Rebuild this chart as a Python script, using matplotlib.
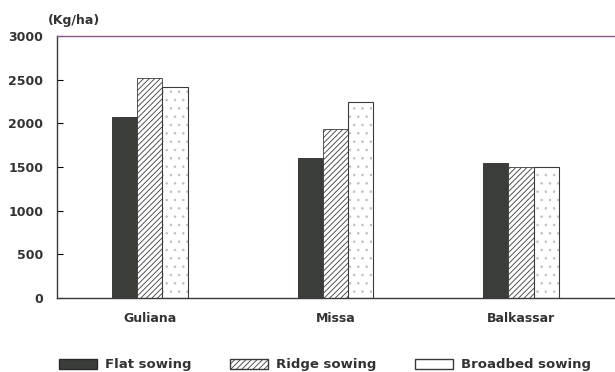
import matplotlib.pyplot as plt
import numpy
from matplotlib.patches import Patch

sites = ['Guliana', 'Missa', 'Balkassar']
flat_sowing = [2070, 1600, 1550]
ridge_sowing = [2520, 1940, 1500]
broadbed_sowing = [2420, 2250, 1500]
y_ticks = [0, 500, 1000, 1500, 2000, 2500, 3000]


def plot():
  plt.rc('font', family='DejaVu Sans', weight='bold')
  plt.rc('hatch', linewidth=0.6)

  fig = plt.figure(figsize=(6.15, 3.72), dpi=100)
  ax = fig.add_axes([0.093, 0.199, 0.905, 0.704])

  x = numpy.arange(len(sites))
  w = 0.135

  ax.bar(x - w, flat_sowing, w, color='#3b3d38', edgecolor='#2a2a2a', lw=0.6)
  ax.bar(x, ridge_sowing, w, color='white', edgecolor='#3a3a3a', hatch='//////', lw=0.6)
  ax.bar(x + w, broadbed_sowing, w, color='white', edgecolor='#c0c0c0', hatch='..', lw=0.6)
  # outlines for the dotted bars in a darker tone
  ax.bar(x + w, broadbed_sowing, w, color='none', edgecolor='#3a3a3a', lw=0.8)

  ax.set_xlim(-0.5, 2.5)
  ax.set_ylim(0, 3000)
  ax.set_yticks(y_ticks)
  ax.set_xticks(x)
  ax.set_xticklabels(sites, fontsize=9, fontweight='bold', color='#333333')
  ax.tick_params(axis='y', labelsize=9, labelcolor='#333333', direction='in',
                 length=4, width=0.8, pad=10)
  ax.tick_params(axis='x', length=0, pad=10)
  for s in ['left', 'bottom', 'top']:
    ax.spines[s].set_color('#3a3a3a')
    ax.spines[s].set_linewidth(1.0)
  ax.spines['top'].set_color('#8a5a8a')
  ax.spines['right'].set_visible(False)

  fig.text(0.078, 0.935, '(Kg/ha)', fontsize=9, fontweight='bold', color='#333333')

  handles = [
    Patch(facecolor='#3b3d38', edgecolor='#2a2a2a', label='Flat sowing'),
    Patch(facecolor='white', edgecolor='#3a3a3a', hatch='//////', label='Ridge sowing'),
    Patch(facecolor='white', edgecolor='#3a3a3a', label='Broadbed sowing'),
  ]
  fig.legend(handles=handles, loc='lower center', bbox_to_anchor=(0.528, -0.03), ncol=3,
             frameon=False, fontsize=9.5, handlelength=2.9, handleheight=0.8,
             handletextpad=0.6, columnspacing=2.9, labelcolor='#333333')

  plt.savefig('out.png', dpi=100)


plot()
